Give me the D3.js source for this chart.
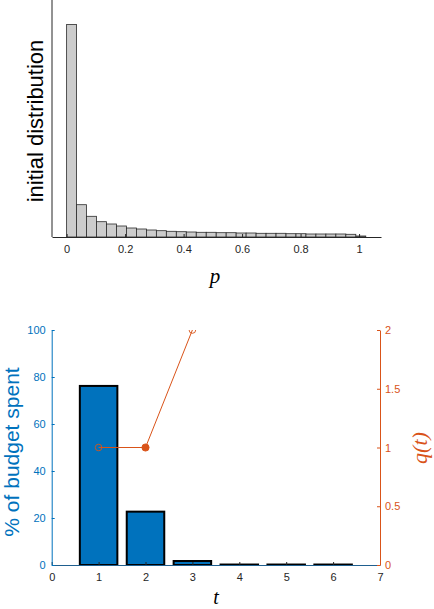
<!DOCTYPE html>
<html>
<head>
<meta charset="utf-8">
<script src="https://cdn.jsdelivr.net/npm/d3@7"></script>
<style>
  body { margin: 0; background: #fff; }
  svg { display: block; font-family: "Liberation Sans", Arial, sans-serif; }
  .tick text { font-size: 11px; }
  .math { font-family: "Liberation Serif", "DejaVu Serif", serif; font-style: italic; }
</style>
</head>
<body>
<div id="chart"></div>
<script>

// histogram of p (30 bins, relative frequency)
const binWidth = 0.0341;
const histValues = [0.425, 0.0646, 0.0414, 0.0306, 0.026, 0.022, 0.018, 0.016, 0.014, 0.0126,
  0.0114, 0.0106, 0.010, 0.0094, 0.0094, 0.0086, 0.0086, 0.008, 0.008, 0.0074,
  0.0074, 0.0074, 0.0066, 0.0066, 0.006, 0.006, 0.006, 0.006, 0.0054, 0.002];
const pTicks = [0, 0.2, 0.4, 0.6, 0.8, 1];

// budget spent per round t
const rounds = [1, 2, 3, 4, 5, 6];
const budgetSpent = [76.2, 22.7, 1.7, 0.2, 0.2, 0.2];
const budgetTicks = [0, 20, 40, 60, 80, 100];
const tTicks = [0, 1, 2, 3, 4, 5, 6, 7];

// q(t) line
const qT = [1, 2, 3];
const qValues = [1, 1, 2];
const qFilled = [false, true, false];
const qTicks = [0, 0.5, 1, 1.5, 2];

const blue = "#0072bd";
const orange = "#d95319";
const axisGray = "#262626";
const fmt = d3.format("~g");

const width = 434;
const height = 609;

const svg = d3.select("#chart").append("svg")
  .attr("width", width)
  .attr("height", height);

createHistogram();
createBudgetChart();

// top panel: initial distribution
function createHistogram() {
  var x = d3.scaleLinear().domain([-0.05, 1.075]).range([52, 381]);
  var y = d3.scaleLinear().domain([0, 0.474]).range([237, 0]);

  var g = svg.append("g");

  g.selectAll("rect.bin")
    .data(histValues)
    .enter()
    .append("rect")
    .attr("class", "bin")
    .attr("x", function(d, i) { return x(i * binWidth); })
    .attr("y", function(d) { return y(d); })
    .attr("width", x(binWidth) - x(0))
    .attr("height", function(d) { return y(0) - y(d); })
    .attr("fill", "#cccccc")
    .attr("stroke", "#2b2b2b")
    .attr("stroke-width", 0.8);

  // x axis, ticks pointing inward
  var xAxis = g.append("g")
    .attr("transform", "translate(0," + y(0) + ")")
    .call(d3.axisBottom(x).tickValues(pTicks).tickSizeInner(-3).tickSizeOuter(0).tickFormat(fmt));
  xAxis.select(".domain").attr("stroke", axisGray);
  xAxis.selectAll(".tick line").attr("stroke", axisGray);
  xAxis.selectAll(".tick text").attr("fill", axisGray).attr("dy", "1.05em").attr("y", 4);

  // y axis line only
  g.append("line")
    .attr("x1", x(-0.05)).attr("x2", x(-0.05))
    .attr("y1", y(0.474)).attr("y2", y(0))
    .attr("stroke", axisGray);

  g.append("text")
    .attr("transform", "translate(43,121) rotate(-90)")
    .attr("text-anchor", "middle")
    .attr("font-size", 22)
    .attr("fill", "#000")
    .text("initial distribution");

  g.append("text")
    .attr("class", "math")
    .attr("x", 215).attr("y", 283)
    .attr("text-anchor", "middle")
    .attr("font-size", 21)
    .text("p");
}

// bottom panel: budget spent (left) and q(t) (right)
function createBudgetChart() {
  var x = d3.scaleLinear().domain([0, 7]).range([51.7, 380]);
  var yLeft = d3.scaleLinear().domain([0, 100]).range([565, 330]);
  var yRight = d3.scaleLinear().domain([0, 2]).range([565, 330]);
  var barW = (x(1) - x(0)) * 0.8;

  var g = svg.append("g");

  g.append("clipPath").attr("id", "plotClip")
    .append("rect")
    .attr("x", x(0)).attr("y", yLeft(100))
    .attr("width", x(7) - x(0)).attr("height", yLeft(0) - yLeft(100));

  g.selectAll("rect.bar")
    .data(budgetSpent)
    .enter()
    .append("rect")
    .attr("class", "bar")
    .attr("x", function(d, i) { return x(rounds[i]) - barW / 2; })
    .attr("y", function(d) { return yLeft(d); })
    .attr("width", barW)
    .attr("height", function(d) { return yLeft(0) - yLeft(d); })
    .attr("fill", blue)
    .attr("stroke", "#000")
    .attr("stroke-width", 2);

  // x axis
  var xAxis = g.append("g")
    .attr("transform", "translate(0," + yLeft(0) + ")")
    .call(d3.axisBottom(x).tickValues(tTicks).tickSizeInner(-3).tickSizeOuter(0).tickFormat(fmt));
  xAxis.select(".domain").attr("stroke", "#1f5f8f");
  xAxis.selectAll(".tick line").attr("stroke", axisGray);
  xAxis.selectAll(".tick text").attr("fill", axisGray).attr("y", 6).attr("dy", "0.9em");

  // left axis
  var leftAxis = g.append("g")
    .attr("transform", "translate(" + x(0) + ",0)")
    .call(d3.axisLeft(yLeft).tickValues(budgetTicks).tickSizeInner(-3).tickSizeOuter(0).tickFormat(fmt));
  leftAxis.select(".domain").attr("stroke", blue);
  leftAxis.selectAll(".tick line").attr("stroke", blue);
  leftAxis.selectAll(".tick text").attr("fill", blue).attr("x", -6);

  // right axis
  var rightAxis = g.append("g")
    .attr("transform", "translate(" + x(7) + ",0)")
    .call(d3.axisRight(yRight).tickValues(qTicks).tickSizeInner(-3).tickSizeOuter(0).tickFormat(fmt));
  rightAxis.select(".domain").attr("stroke", orange);
  rightAxis.selectAll(".tick line").attr("stroke", orange);
  rightAxis.selectAll(".tick text").attr("fill", orange).attr("x", 5);

  // q(t) line and markers
  var line = d3.line()
    .x(function(d, i) { return x(qT[i]); })
    .y(function(d) { return yRight(d); });

  var qg = g.append("g").attr("clip-path", "url(#plotClip)");

  qg.append("path")
    .datum(qValues)
    .attr("d", line)
    .attr("fill", "none")
    .attr("stroke", orange)
    .attr("stroke-width", 1);

  qg.selectAll("circle")
    .data(qValues)
    .enter()
    .append("circle")
    .attr("cx", function(d, i) { return x(qT[i]); })
    .attr("cy", function(d) { return yRight(d); })
    .attr("r", function(d, i) { return qFilled[i] ? 3.6 : 3.3; })
    .attr("fill", function(d, i) { return qFilled[i] ? orange : "none"; })
    .attr("stroke", orange)
    .attr("stroke-width", 0.9);

  g.append("text")
    .attr("transform", "translate(19,452) rotate(-90)")
    .attr("text-anchor", "middle")
    .attr("font-size", 21)
    .attr("fill", blue)
    .text("% of budget spent");

  g.append("text")
    .attr("class", "math")
    .attr("transform", "translate(427,448) rotate(-90)")
    .attr("text-anchor", "middle")
    .attr("font-size", 22)
    .attr("fill", orange)
    .text("q(t)");

  g.append("text")
    .attr("class", "math")
    .attr("x", 216).attr("y", 604)
    .attr("text-anchor", "middle")
    .attr("font-size", 20)
    .text("t");
}
</script>
</body>
</html>
